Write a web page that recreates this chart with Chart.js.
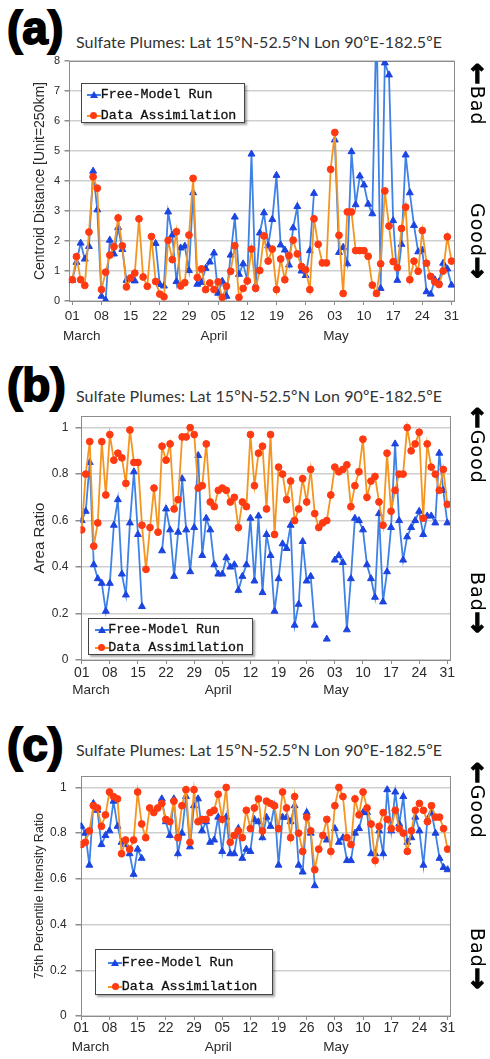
<!DOCTYPE html>
<html>
<head>
<meta charset="utf-8">
<script src="https://cdn.jsdelivr.net/npm/chart.js@4.4.1/dist/chart.umd.min.js"></script>
<style>
html,body{margin:0;padding:0;background:#fff}
#page{position:relative;width:490px;height:1059px;overflow:hidden;font-family:'Liberation Sans',Arial,sans-serif;color:#222}
canvas{position:absolute;left:0}
.tag{position:absolute;left:7px;font:bold 46px/45px 'Liberation Sans',Arial,sans-serif;color:#000;-webkit-text-stroke:1.8px #000}
.ttl{position:absolute;left:76px;font:16px/20px Lato,sans-serif;color:#333;white-space:nowrap}
.side{position:absolute;left:467px;writing-mode:vertical-rl;font:19px/22px 'DejaVu Sans',sans-serif;color:#000;white-space:nowrap;letter-spacing:1px}
.side b{font-size:26px;-webkit-text-stroke:1.3px #000}
.lg{position:absolute;background:#fff;border:1px solid #444;box-shadow:2px 2px 2px rgba(0,0,0,.35);box-sizing:border-box}
.lg .tx{position:absolute;white-space:nowrap;font:13.3px/16px 'Liberation Mono','Courier New',monospace;color:#111;-webkit-text-stroke:.3px #111}
.lg .ln{position:absolute;height:2px}
.lg .tri{position:absolute;width:0;height:0;border-left:4px solid transparent;border-right:4px solid transparent}
.lg .dot{position:absolute;width:7px;height:7px;border-radius:50%}
</style>
</head>
<body>
<div id="page">
  <div class="tag" style="top:6px">(a)</div>
  <div class="ttl" style="top:32px">Sulfate Plumes: Lat 15ºN-52.5ºN Lon 90ºE-182.5ºE</div>
  <canvas id="ca" width="490" height="300" style="top:50px"></canvas>
  <div class="side" style="top:63px"><b>←</b>Bad</div>
  <div class="side" style="top:203px">Good<b>→</b></div>

  <div class="tag" style="top:363px">(b)</div>
  <div class="ttl" style="top:386px">Sulfate Plumes: Lat 15ºN-52.5ºN Lon 90ºE-182.5ºE</div>
  <canvas id="cb" width="490" height="300" style="top:400px"></canvas>
  <div class="side" style="top:407px"><b>←</b>Good</div>
  <div class="side" style="top:572px">Bad<b>→</b></div>

  <div class="tag" style="top:723px">(c)</div>
  <div class="ttl" style="top:740px">Sulfate Plumes: Lat 15ºN-52.5ºN Lon 90ºE-182.5ºE</div>
  <canvas id="cc" width="490" height="299" style="top:760px"></canvas>
  <div class="side" style="top:762px"><b>←</b>Good</div>
  <div class="side" style="top:928px">Bad<b>→</b></div>
</div>
<script>
// daily values, 01 March .. 31 May (92 days); null = no free-model value that day
const SERIES = ['Free-Model Run','Data Assimilation'];
const TICK_DAYS = [0,7,14,21,28,35,42,49,56,63,70,77,84,91];
const TICK_LABELS = ['01','08','15','22','29','05','12','19','26','03','10','17','24','31'];
const MONTHS = ['March','April','May'];
const MONTH_DAYS = [2.3,34,63.3];
const Y_DIST_TICKS = [0,1,2,3,4,5,6,7,8];
const Y_RATIO_TICKS = [0,0.2,0.4,0.6,0.8,1];

// (a) centroid distance
const FM_DIST = [0.69,1.29,1.93,1.40,1.82,4.33,3.04,0.16,0.03,2.03,
  1.57,2.45,1.72,0.69,0.72,0.67,null,null,null,null,
  1.92,0.55,0.50,2.97,2.20,0.65,1.77,1.83,1.02,3.61,
  0.56,0.62,1.09,1.30,1.60,0.26,0.66,0.16,1.53,2.80,
  0.89,1.24,0.69,4.90,0.52,2.27,2.94,1.84,2.72,4.19,
  1.87,1.70,1.20,2.44,3.15,1.00,0.85,1.68,3.59,null,
  null,null,null,5.37,1.62,1.79,1.24,4.98,3.21,4.17,
  3.87,3.23,2.91,9.50,0.42,7.94,7.54,2.68,0.69,1.89,
  4.87,3.61,2.52,1.64,1.70,0.31,0.23,0.71,0.64,1.26,
  1.07,0.53];
const DA_DIST = [0.71,1.48,0.71,0.52,2.30,4.14,3.76,0.38,0.96,1.53,
  1.81,2.77,1.84,0.47,0.77,0.93,2.74,0.80,0.49,2.15,
  0.65,0.23,0.14,2.02,1.38,2.31,0.50,0.61,2.20,4.09,
  0.78,1.07,0.38,0.60,0.38,0.64,0.12,0.49,0.99,1.84,
  0.12,0.42,0.67,1.73,0.42,1.02,2.17,1.33,1.73,0.38,
  1.40,0.71,1.51,2.03,1.57,1.15,1.04,0.38,2.74,1.89,
  1.27,1.27,4.39,5.62,2.19,0.25,2.97,2.97,1.68,1.68,
  1.68,1.49,0.53,0.25,1.24,3.67,2.50,1.31,1.11,2.42,
  3.13,0.71,1.33,0.99,2.35,1.26,0.82,0.64,0.55,1.00,
  2.14,1.33];

// (b) area ratio
const FM_AREA = [0.60,0.64,0.85,0.41,0.35,0.33,0.21,0.33,0.58,0.69,
  0.37,0.28,0.59,0.81,0.54,0.23,null,null,null,null,
  0.47,0.65,0.56,0.36,0.55,0.78,0.56,0.38,0.57,0.88,
  0.45,0.61,0.56,0.41,0.37,0.37,0.44,0.40,0.41,0.30,
  0.36,0.41,0.61,0.34,0.62,0.29,0.54,0.45,0.21,0.35,
  0.50,0.48,0.58,0.15,0.24,0.51,0.34,0.36,0.15,null,
  null,0.09,null,0.43,0.45,0.42,0.13,0.35,0.61,0.60,
  0.56,0.41,0.35,0.27,0.63,0.25,0.38,0.57,0.93,0.60,
  0.43,0.53,0.57,0.60,0.64,0.54,0.62,0.62,0.59,0.89,
  0.73,0.59];
const DA_AREA = [0.56,0.80,0.94,0.49,0.59,0.94,0.71,0.97,0.86,0.89,
  0.87,0.76,0.99,0.85,0.85,0.58,0.39,0.57,0.74,0.55,
  0.92,0.86,0.93,0.65,0.69,0.96,0.96,1.00,0.97,0.74,
  0.75,0.93,0.68,0.66,0.73,0.74,0.73,0.68,0.70,0.57,
  0.68,0.66,0.97,0.75,0.89,0.92,0.65,0.97,0.54,0.83,
  0.80,0.69,0.77,0.60,0.65,0.78,0.68,0.82,0.63,0.57,
  0.59,0.60,0.71,0.83,0.81,0.82,0.84,0.66,0.75,0.81,
  0.95,0.70,0.77,0.79,0.68,0.58,0.89,0.64,0.73,0.80,
  0.80,1.00,0.90,0.93,0.98,0.61,0.93,0.83,0.80,0.73,
  0.82,0.67];

// (c) 75th percentile intensity ratio
const FM_INT = [0.83,0.80,0.66,0.93,0.90,0.75,0.79,0.81,0.94,0.83,
  0.76,0.75,0.71,0.62,0.73,0.69,null,null,null,null,
  0.95,0.85,0.79,0.95,0.71,0.80,0.96,0.74,0.92,0.95,
  0.81,0.85,0.76,0.77,0.87,0.72,0.87,0.71,0.71,0.82,
  0.69,0.73,0.72,0.86,0.85,0.78,0.87,0.83,0.92,0.66,
  0.87,0.87,0.85,0.92,0.66,0.63,0.89,0.80,0.57,null,
  null,0.77,null,0.82,0.76,0.78,0.68,0.68,0.80,0.82,
  0.89,0.89,0.71,0.71,0.81,0.71,0.99,0.81,0.98,0.84,
  0.96,0.76,0.78,0.87,0.81,0.66,0.86,0.89,0.80,0.69,
  0.65,0.64];
const DA_INT = [0.75,0.76,0.81,0.92,0.91,0.83,0.88,0.98,0.96,0.95,
  0.71,0.77,0.73,0.77,0.98,0.84,0.78,0.91,0.89,0.91,
  0.93,0.86,0.85,0.94,0.78,0.92,0.99,0.76,0.99,0.85,
  0.86,0.86,0.89,0.90,0.97,0.86,1.00,0.76,0.79,0.81,
  0.78,0.90,0.82,0.91,0.95,0.81,0.94,0.93,0.92,0.82,
  0.98,0.91,0.78,0.96,0.80,0.72,0.87,0.81,0.64,0.73,
  0.79,0.86,0.72,0.92,1.00,0.96,0.78,0.75,0.95,0.88,
  0.98,0.91,0.84,0.68,0.83,0.89,0.86,0.82,0.90,0.82,
  0.80,0.72,0.81,0.90,0.93,0.90,0.85,0.92,0.87,0.87,
  0.82,0.73];

const BLUE_LINE='#3f82e6', BLUE_PT='#1c44e0', ORANGE_LINE='#f49521', ORANGE_PT='#ff3a12';
const FRAME='#8c8c8c', GRID='#cfcfcf', TXT='#2a2a2a';

Chart.defaults.font.family="'Liberation Sans', Arial, sans-serif";

// grey box around the plot area
const frame={id:'frame',beforeDatasetsDraw(c){
  const {ctx,chartArea:a}=c;
  ctx.save(); ctx.strokeStyle=FRAME; ctx.lineWidth=1;
  ctx.strokeRect(Math.round(a.left)+.5,Math.round(a.top)+.5,Math.round(a.right-a.left)-1,Math.round(a.bottom-a.top));
  ctx.restore();
}};

const xy=arr=>arr.map((v,i)=>({x:i,y:v}));

function panel(id,o){
  return new Chart(document.getElementById(id),{
    type:'line',
    data:{datasets:[
      {label:SERIES[0],data:xy(o.fm),borderColor:BLUE_LINE,borderWidth:1.8,
       pointStyle:'triangle',pointRadius:4,pointBackgroundColor:BLUE_PT,pointBorderColor:BLUE_PT,
       pointBorderWidth:1,spanGaps:false,order:2},
      {label:SERIES[1],data:xy(o.da),borderColor:ORANGE_LINE,borderWidth:1.8,
       pointStyle:'circle',pointRadius:3.4,pointBackgroundColor:ORANGE_PT,pointBorderColor:ORANGE_PT,
       pointBorderWidth:1,spanGaps:false,order:1},
    ]},
    options:{
      responsive:false,animation:false,devicePixelRatio:1,events:[],
      layout:{padding:{left:o.pad[0],top:o.pad[1],right:o.pad[2],bottom:0}},
      plugins:{legend:{display:false},tooltip:{enabled:false}},
      scales:{
        x:{type:'linear',position:'bottom',weight:0,min:o.xr[0],max:o.xr[1],
           afterBuildTicks:ax=>{ax.ticks=TICK_DAYS.map(v=>({value:v}));},
           afterFit:ax=>{ax.height=o.xH;},
           ticks:{callback:(v,i)=>TICK_LABELS[i],autoSkip:false,maxRotation:0,
                  padding:o.xPad,color:TXT,font:{size:o.xFont}},
           grid:{drawOnChartArea:false,tickLength:4,tickColor:FRAME},border:{display:false}},
        xm:{type:'linear',position:'bottom',weight:1,min:o.xr[0],max:o.xr[1],
           afterBuildTicks:ax=>{ax.ticks=MONTH_DAYS.map(v=>({value:v}));},
           afterFit:ax=>{ax.height=o.mH;},
           ticks:{callback:(v,i)=>MONTHS[i],autoSkip:false,maxRotation:0,
                  padding:o.mPad,color:TXT,font:{size:13.5}},
           grid:{display:false,drawTicks:false},border:{display:false}},
        y:{min:o.yr[0],max:o.yr[1],
           afterBuildTicks:ax=>{ax.ticks=o.yTicks.map(v=>({value:v}));},
           afterFit:ax=>{ax.width=o.yW;},
           ticks:{callback:v=>String(v),padding:o.yPad,color:TXT,font:{size:o.yFont}},
           grid:{color:GRID,lineWidth:1.5,tickLength:o.yTick,tickColor:FRAME},
           border:{display:false},
           title:{display:true,text:o.title,color:TXT,font:{size:o.tFont},padding:{top:4,bottom:4}}}
      }
    },
    plugins:[frame]
  });
}

panel('ca',{fm:FM_DIST,da:DA_DIST,pad:[27.6,7.5,35.5],yW:40.9,xr:[-0.91,91.72],yr:[0,8],
  yTicks:Y_DIST_TICKS,yPad:4.5,yTick:4,yFont:11,xH:25,xPad:3,xFont:13.5,mH:24,mPad:2,
  title:'Centroid Distance [Unit=250km]',tFont:14});
panel('cb',{fm:FM_AREA,da:DA_AREA,pad:[27,16,40],yW:53.5,xr:[-0.3,91.67],yr:[0,1.05],
  yTicks:Y_RATIO_TICKS,yPad:7,yTick:5,yFont:12,xH:20,xPad:1,xFont:14,mH:20,mPad:2,
  title:'Area Ratio',tFont:15});
panel('cc',{fm:FM_INT,da:DA_INT,pad:[28.5,11.7,40],yW:52,xr:[-0.2,91.6],yr:[0,1.05],
  yTicks:Y_RATIO_TICKS,yPad:8.8,yTick:5,yFont:12,xH:20,xPad:0,xFont:14,mH:23,mPad:3.6,
  title:'75th Percentile Intensity Ratio',tFont:12.5});

// legends sit in a plot corner, as in the original figure
const LEGENDS=[
  {x:80.7,y:82.7,w:164.3,h:40,rows:[12.3,33],mx:13.3,tx:20},
  {x:88.3,y:617.7,w:164.7,h:37.3,rows:[12.3,30],mx:13.4,tx:20},
  {x:95,y:949.3,w:177.7,h:45.7,rows:[14,37.4],mx:20,tx:26.7},
];
const page=document.getElementById('page');
LEGENDS.forEach(L=>{
  const box=document.createElement('div'); box.className='lg';
  Object.assign(box.style,{left:L.x+'px',top:L.y+'px',width:L.w+'px',height:L.h+'px'});
  SERIES.forEach((name,i)=>{
    const cy=L.rows[i]-1, cx=L.mx-1;
    const ln=document.createElement('div'); ln.className='ln';
    Object.assign(ln.style,{left:(cx-7)+'px',top:(cy-1)+'px',width:'14px',background:i?ORANGE_LINE:BLUE_LINE});
    const mk=document.createElement('div');
    if(i===0){ mk.className='tri'; Object.assign(mk.style,{left:(cx-4)+'px',top:(cy-4)+'px',borderBottom:'7px solid '+BLUE_PT}); }
    else { mk.className='dot'; Object.assign(mk.style,{left:(cx-3.5)+'px',top:(cy-3.5)+'px',background:ORANGE_PT}); }
    const tx=document.createElement('div'); tx.className='tx'; tx.textContent=name;
    Object.assign(tx.style,{left:(L.tx-1)+'px',top:(cy-8)+'px'});
    box.append(ln,mk,tx);
  });
  page.appendChild(box);
});

// stretch the panel titles to the original width
document.querySelectorAll('.ttl').forEach(el=>{
  const w=el.getBoundingClientRect().width;
  el.style.letterSpacing=((366-w)/(el.textContent.length-1))+'px';
});
</script>
</body>
</html>
